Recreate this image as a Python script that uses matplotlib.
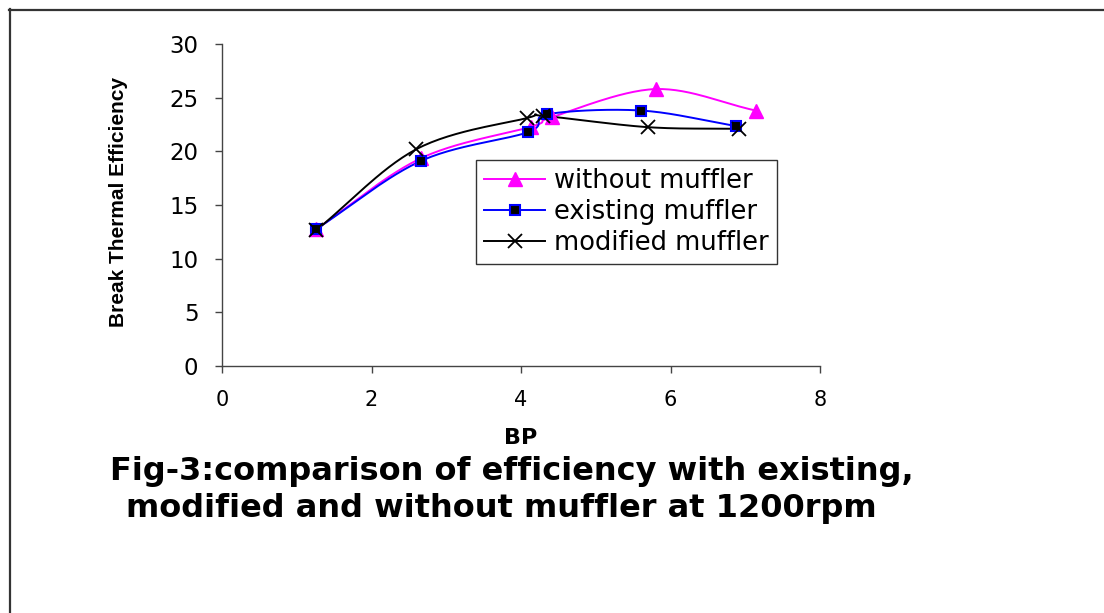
import numpy as np
import matplotlib
matplotlib.use("Agg")
import matplotlib.pyplot as plt
from matplotlib.lines import Line2D

plt.rcParams['font.family'] = ['DejaVu Sans']

# Brake power (BP) and brake thermal efficiency for each muffler setup
bp_without = [1.26, 2.66, 4.14, 4.42, 5.80, 7.14]
eff_without = [12.75, 19.35, 22.3, 23.2, 25.8, 23.8]

bp_existing = [1.26, 2.66, 4.10, 4.35, 5.61, 6.88]
eff_existing = [12.75, 19.1, 21.8, 23.45, 23.8, 22.35]

bp_modified = [1.26, 2.60, 4.08, 4.30, 5.70, 6.92]
eff_modified = [12.65, 20.2, 23.1, 23.3, 22.25, 22.1]

series_labels = ["without muffler", "existing muffler", "modified muffler"]
x_ticks = [0, 2, 4, 6, 8]
y_ticks = [0, 5, 10, 15, 20, 25, 30]

W, H = 1104, 613


def smooth(xs, ys, n=30, tension=0.5):
    """Catmull-Rom style smoothing through the given points."""
    x = np.asarray(xs, float)
    y = np.asarray(ys, float)
    px = np.concatenate([[2 * x[0] - x[1]], x, [2 * x[-1] - x[-2]]])
    py = np.concatenate([[2 * y[0] - y[1]], y, [2 * y[-1] - y[-2]]])
    out_x, out_y = [], []
    for i in range(1, len(px) - 2):
        t = np.linspace(0, 1, n, endpoint=False)
        m1x = tension * (px[i + 1] - px[i - 1]); m1y = tension * (py[i + 1] - py[i - 1])
        m2x = tension * (px[i + 2] - px[i]); m2y = tension * (py[i + 2] - py[i])
        h00 = 2 * t**3 - 3 * t**2 + 1
        h10 = t**3 - 2 * t**2 + t
        h01 = -2 * t**3 + 3 * t**2
        h11 = t**3 - t**2
        out_x.append(h00 * px[i] + h10 * m1x + h01 * px[i + 1] + h11 * m2x)
        out_y.append(h00 * py[i] + h10 * m1y + h01 * py[i + 1] + h11 * m2y)
    out_x.append([x[-1]]); out_y.append([y[-1]])
    return np.concatenate(out_x), np.concatenate(out_y)


fig = plt.figure(figsize=(W / 100, H / 100), dpi=100)
ax = fig.add_axes([222 / W, 1 - 366 / H, 598 / W, 322 / H])

styles = [
    dict(color='#FF00FF', marker='^', ms=10, mfc='#FF00FF', mec='#FF00FF', mew=1),
    dict(color='#0000FF', marker='s', ms=7.5, mfc='black', mec='#0000FF', mew=1.5),
    dict(color='black', marker='x', ms=10, mfc='black', mec='black', mew=1.3),
]
data = [(bp_without, eff_without), (bp_existing, eff_existing), (bp_modified, eff_modified)]

handles = []
for (xs, ys), st, lab in zip(data, styles, series_labels):
    sx, sy = smooth(xs, ys)
    ax.plot(sx, sy, color=st['color'], lw=1.4, zorder=2)
    ax.plot(xs, ys, ls='none', marker=st['marker'], ms=st['ms'], mfc=st['mfc'],
            mec=st['mec'], mew=st['mew'], zorder=3)
    handles.append(Line2D([], [], color=st['color'], lw=1.4, marker=st['marker'],
                          ms=st['ms'], mfc=st['mfc'], mec=st['mec'], mew=st['mew']))

ax.set_xlim(0, 8)
ax.set_ylim(0, 30)
ax.set_xticks(x_ticks)
ax.set_yticks(y_ticks)
ax.set_xticklabels([str(v) for v in x_ticks], fontsize=15)
ax.set_yticklabels([str(v) for v in y_ticks], fontsize=16.5)
for s in ('top', 'right'):
    ax.spines[s].set_visible(False)
for s in ('left', 'bottom'):
    ax.spines[s].set_color('#444444')
    ax.spines[s].set_linewidth(1.0)
ax.tick_params(axis='both', direction='out', length=5, width=1, color='#444444')
ax.tick_params(axis='y', pad=12)
ax.tick_params(axis='x', pad=12)

ax.set_xlabel('BP', fontsize=16, fontweight='bold', labelpad=13)
ax.set_ylabel('Break Thermal Efficiency', fontsize=15, fontweight='bold',
              family='Liberation Sans', ha='center', va='center')
ax.yaxis.set_label_coords((118 - 222) / 598, (366 - 202) / 322)

leg = fig.legend(handles, series_labels, loc='upper left',
                 bbox_to_anchor=(476 / W, 1 - 160 / H), fontsize=18.5,
                 frameon=True, fancybox=False, edgecolor='black', handlelength=2.4,
                 handletextpad=0.35, borderpad=0.3, labelspacing=0.2, borderaxespad=0)
leg.get_frame().set_linewidth(1.0)

title_lines = ['Fig-3:comparison of efficiency with existing,',
               'modified and without muffler at 1200rpm']
fig.text(512 / W, 1 - 480 / H, title_lines[0], ha='center', va='baseline',
         fontsize=23, fontweight='bold')
fig.text(501 / W, 1 - 517 / H, title_lines[1], ha='center', va='baseline',
         fontsize=23, fontweight='bold')

# Frame lines along the top and left edges
fig.add_artist(Line2D([9 / W, 1], [1 - 9.5 / H, 1 - 9.5 / H],
                      transform=fig.transFigure, color='#333333', lw=1.6))
fig.add_artist(Line2D([9.5 / W, 9.5 / W], [0, 1 - 9 / H],
                      transform=fig.transFigure, color='#333333', lw=1.6))

fig.savefig('out.png', dpi=100)
